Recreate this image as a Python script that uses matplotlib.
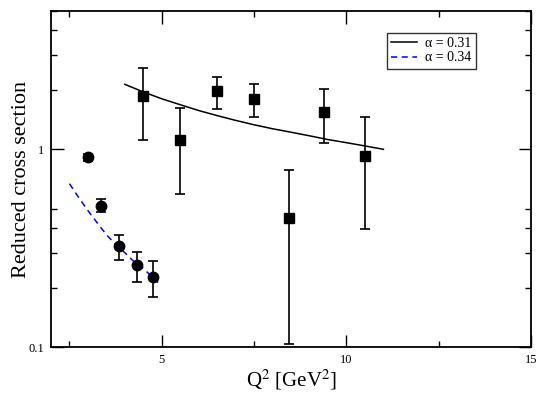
import matplotlib
matplotlib.use("Agg")
import matplotlib.pyplot as plt
from matplotlib.ticker import FixedLocator, NullFormatter, FixedFormatter

plt.rcParams['font.family'] = ['Liberation Serif', 'DejaVu Serif']
plt.rcParams['mathtext.fontset'] = 'stix'

# Circles (low Q^2 data)
circ_x = [3.0, 3.35, 3.85, 4.33, 4.77]
circ_y = [0.91, 0.517, 0.323, 0.259, 0.226]
circ_lo = [0.87, 0.48, 0.277, 0.213, 0.180]
circ_hi = [0.95, 0.56, 0.369, 0.304, 0.272]

# Squares (high Q^2 data)
sq_x = [4.5, 5.5, 6.5, 7.5, 8.45, 9.4, 10.5]
sq_y = [1.85, 1.11, 1.96, 1.79, 0.447, 1.54, 0.92]
sq_lo = [1.11, 0.597, 1.60, 1.45, 0.104, 1.08, 0.394]
sq_hi = [2.57, 1.61, 2.31, 2.15, 0.787, 2.01, 1.45]

# Model curves
solid_x = [4.0, 4.5, 5.0, 5.5, 6.0, 6.5, 7.0, 7.5, 8.0, 8.5, 9.0, 9.5, 10.0, 10.5, 11.0]
solid_y = [2.13, 1.95, 1.80, 1.68, 1.57, 1.48, 1.40, 1.33, 1.27, 1.22, 1.17, 1.12, 1.08, 1.04, 1.00]
dash_x = [2.5, 2.75, 3.0, 3.25, 3.5, 3.75, 4.0, 4.25, 4.5, 4.75, 4.9]
dash_y = [0.67, 0.57, 0.49, 0.425, 0.37, 0.33, 0.30, 0.27, 0.25, 0.225, 0.212]

legend_labels = ['α = 0.31', 'α = 0.34']

fig = plt.figure(figsize=(5.37, 3.94), dpi=100)
ax = fig.add_axes([0.095, 0.119, 0.894, 0.853])

l1, = ax.plot(solid_x, solid_y, color='black', lw=1.1)
l2, = ax.plot(dash_x, dash_y, color='#0000ff', lw=1.1, ls=(0, (4, 3)))

ax.errorbar(circ_x, circ_y,
            yerr=[[y - l for y, l in zip(circ_y, circ_lo)], [h - y for y, h in zip(circ_y, circ_hi)]],
            fmt='o', color='black', ms=7.5, capsize=3.3, elinewidth=1.2, capthick=1.2)
ax.errorbar(sq_x, sq_y,
            yerr=[[y - l for y, l in zip(sq_y, sq_lo)], [h - y for y, h in zip(sq_y, sq_hi)]],
            fmt='s', color='black', ms=6.5, capsize=3.3, elinewidth=1.2, capthick=1.2)

ax.set_yscale('log')
ax.set_xlim(2, 15)
ax.set_ylim(0.1, 5)

ax.xaxis.set_major_locator(FixedLocator([5, 10, 15]))
ax.xaxis.set_minor_locator(FixedLocator([2.5, 7.5, 12.5]))
ax.yaxis.set_major_locator(FixedLocator([0.1, 1]))
ax.yaxis.set_major_formatter(FixedFormatter(['0.1', '1']))
ax.yaxis.set_minor_locator(FixedLocator([0.2, 0.3, 0.4, 0.5, 2, 3, 4, 5]))
ax.yaxis.set_minor_formatter(NullFormatter())

ax.tick_params(which='both', direction='in', top=True, right=True, labelsize=9, width=1.0)
ax.tick_params(which='major', length=9, pad=5)
ax.tick_params(which='minor', length=4.5)
for s in ax.spines.values():
    s.set_linewidth(1.3)

ax.set_xlabel(r'Q$^2$ [GeV$^2$]', fontsize=15, labelpad=1)
ax.set_ylabel('Reduced cross section', fontsize=16, labelpad=-2)

leg = ax.legend([l1, l2], legend_labels, loc='upper left', bbox_to_anchor=(0.699, 0.935),
                fontsize=10, frameon=True, fancybox=False, edgecolor='black',
                handlelength=1.9, borderpad=0.3, labelspacing=0.1, handletextpad=0.6,
                borderaxespad=0.0)
leg.get_frame().set_linewidth(1.0)

fig.savefig('out.png', dpi=100)
